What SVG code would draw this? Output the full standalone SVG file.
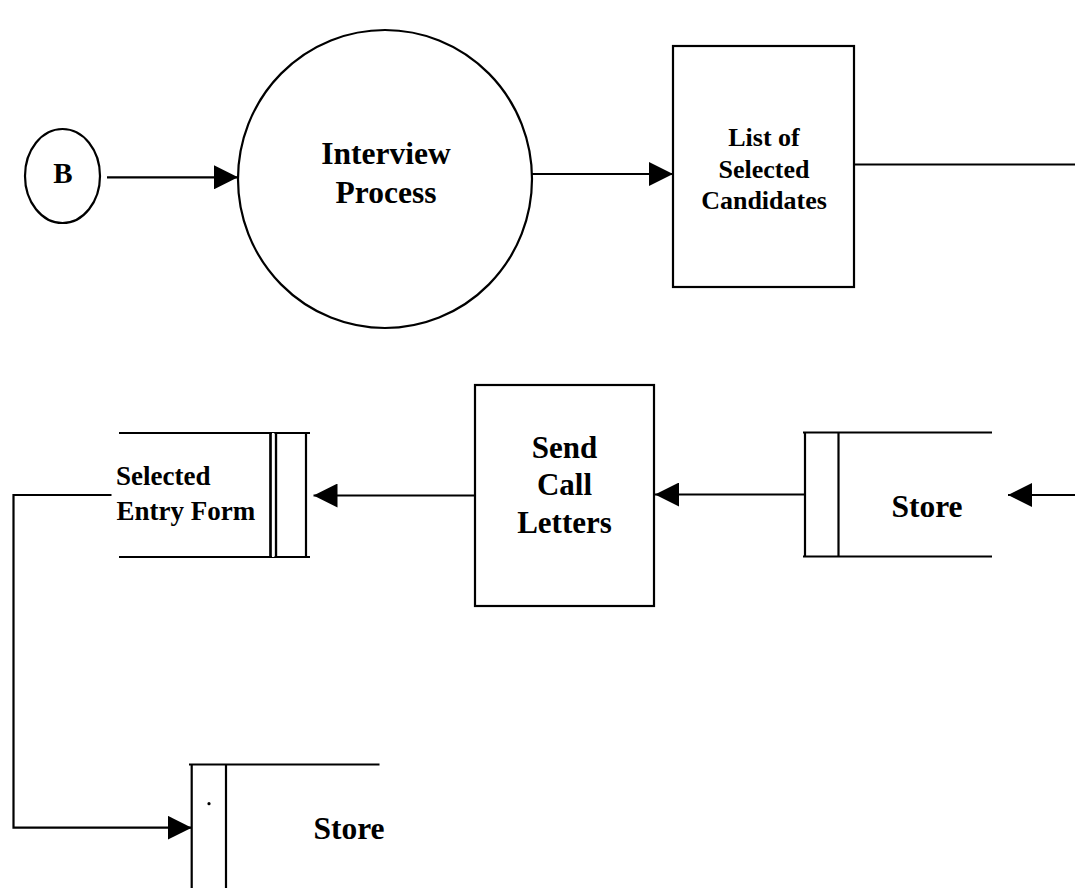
<svg xmlns="http://www.w3.org/2000/svg" width="1075" height="888" viewBox="0 0 1075 888">
<style>
.shape{fill:none;stroke:#000;stroke-width:2.2}
.line{fill:none;stroke:#000;stroke-width:2.2}
.t{font-family:"Liberation Serif","Times New Roman",serif;font-weight:bold;fill:#000;text-anchor:middle}
.ts{font-family:"Liberation Serif","Times New Roman",serif;font-weight:bold;fill:#000;text-anchor:start}
</style>
<defs>
<marker id="arrow" markerUnits="userSpaceOnUse" markerWidth="24" markerHeight="24" viewBox="0 0 22 22" refX="22" refY="11" orient="auto">
<path d="M0,0 L22,11 L0,22 Z" fill="#000"/>
</marker>
</defs>
<rect width="1075" height="888" fill="#fff"/>

<g id="node-B">
<ellipse class="shape" cx="62.5" cy="176" rx="37.5" ry="47"/>
<text class="t" x="63" y="183" font-size="29">B</text>
</g>

<g id="node-interview">
<ellipse class="shape" cx="385" cy="179" rx="147" ry="149"/>
<text class="t" x="386" y="164" font-size="31.5">Interview</text>
<text class="t" x="386" y="203" font-size="31.5">Process</text>
</g>

<g id="node-list">
<rect class="shape" x="673" y="46" width="181" height="241"/>
<text class="t" x="764" y="146" font-size="26">List of</text>
<text class="t" x="764" y="178" font-size="26">Selected</text>
<text class="t" x="764" y="209" font-size="26">Candidates</text>
</g>

<g id="node-send">
<rect class="shape" x="475" y="385" width="179" height="221"/>
<text class="t" x="564.5" y="458" font-size="31">Send</text>
<text class="t" x="564.5" y="495" font-size="31">Call</text>
<text class="t" x="564.5" y="533" font-size="31">Letters</text>
</g>

<g id="node-store-right">
<path class="shape" d="M803,432.5 H992 M803,556.5 H992 M805,432.5 V556.5 M838.5,432.5 V556.5"/>
<text class="t" x="927" y="517" font-size="31.5">Store</text>
</g>

<g id="node-selected-entry-form">
<path class="shape" d="M119,433 H310 M119,557 H310 M270.5,433 V557 M276,433 V557 M306,433 V557"/>
<path d="M273.2,433 V557" stroke="#fff" stroke-width="2.5"/>
<path class="shape" d="M270.5,433 V557 M276,433 V557" stroke-width="1.6"/>
<text class="ts" x="116" y="485" font-size="27">Selected</text>
<text class="ts" x="116.5" y="520" font-size="27">Entry Form</text>
</g>

<g id="node-store-bottom">
<path class="shape" d="M189,764.5 H379.5 M191.7,764.5 V888 M226,764.5 V888"/>
<circle cx="209" cy="803.7" r="1.6" fill="#000"/>
<text class="t" x="349" y="838.5" font-size="31.5">Store</text>
</g>

<g id="connectors">
<path class="line" d="M107,177.3 H238" marker-end="url(#arrow)"/>
<path class="line" d="M532,174 H673" marker-end="url(#arrow)"/>
<path class="line" d="M854,164.5 H1075"/>
<path class="line" d="M1075,495 H1008" marker-end="url(#arrow)"/>
<path class="line" d="M805,494.5 H655" marker-end="url(#arrow)"/>
<path class="line" d="M475,495.5 H313.5" marker-end="url(#arrow)"/>
<path class="line" d="M111.5,495 H13.5 V827.7 H191.7" marker-end="url(#arrow)"/>
</g>
</svg>
